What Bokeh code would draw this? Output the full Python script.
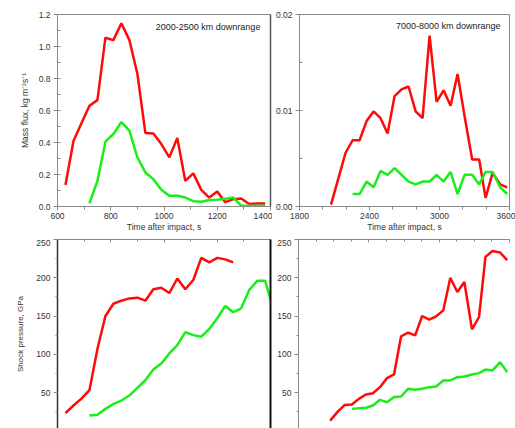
from bokeh.plotting import figure
from bokeh.layouts import row, column
from bokeh.models import (Range1d, LinearAxis, SingleIntervalTicker, FixedTicker,
                          Label, PrintfTickFormatter)
from bokeh.embed import file_html
from bokeh.resources import INLINE

# ---------------- data ----------------
# Mass flux, 2000-2500 km downrange
t_flux_near_red = [630, 660, 690, 720, 750, 780, 810, 840, 870, 900, 930, 960, 990,
                   1020, 1050, 1080, 1110, 1140, 1170, 1200, 1230, 1260, 1290, 1320, 1350, 1380]
flux_near_red = [0.134, 0.41, 0.52, 0.63, 0.665, 1.055, 1.04, 1.145, 1.04, 0.83, 0.46, 0.457, 0.39,
                 0.307, 0.428, 0.16, 0.207, 0.104, 0.056, 0.094, 0.027, 0.046, 0.05, 0.015, 0.019, 0.019]
t_flux_near_green = [720, 750, 780, 810, 840, 870, 900, 930, 960, 990, 1020, 1050, 1080,
                     1110, 1140, 1170, 1200, 1230, 1260, 1290, 1320, 1350, 1380]
flux_near_green = [0.02, 0.16, 0.405, 0.453, 0.528, 0.474, 0.307, 0.213, 0.171, 0.104, 0.067, 0.067, 0.056,
                   0.033, 0.03, 0.04, 0.042, 0.048, 0.056, 0.005, 0.004, 0.004, 0.004]

# Mass flux, 7000-8000 km downrange
t_far_red = [2070, 2135, 2195, 2255, 2315, 2375, 2435, 2495, 2555, 2615, 2675, 2735, 2795,
             2855, 2915, 2975, 3035, 3095, 3155, 3215, 3280, 3340, 3395, 3455, 3520, 3580]
flux_far_red = [0.0002, 0.003, 0.0056, 0.0069, 0.0069, 0.0089, 0.0099, 0.0092, 0.0076, 0.0115, 0.0122,
                0.0125, 0.0099, 0.0092, 0.0178, 0.0109, 0.0121, 0.0105, 0.0138, 0.0094, 0.0049, 0.0049,
                0.0009, 0.0035, 0.0023, 0.002]
t_far_green = [2255, 2315, 2375, 2435, 2495, 2555, 2615, 2675, 2735, 2795, 2855, 2915, 2975,
               3035, 3095, 3155, 3215, 3280, 3340, 3395, 3455, 3520, 3580]
flux_far_green = [0.0013, 0.0013, 0.0026, 0.002, 0.0037, 0.0033, 0.004, 0.0033, 0.0026, 0.0023, 0.0026,
                  0.0026, 0.0033, 0.0026, 0.0036, 0.0013, 0.0033, 0.0033, 0.0023, 0.0036, 0.0036,
                  0.002, 0.0013]

# Shock pressure, 2000-2500 km downrange
t_p_near_red = [630, 660, 690, 720, 750, 780, 810, 840, 870, 900, 930, 960, 990,
                1020, 1050, 1080, 1110, 1140, 1170, 1200, 1230, 1260]
p_near_red = [23, 33, 42, 53, 107, 150, 166, 170, 173, 174, 170, 185, 187,
              180, 199, 185, 197, 226, 220, 226, 224, 220]
t_p_near_green = [720, 750, 780, 810, 840, 870, 900, 930, 960, 990, 1020, 1050, 1080,
                  1110, 1140, 1170, 1200, 1230, 1260, 1290, 1320, 1350, 1380, 1410]
p_near_green = [20, 21, 28.6, 35, 39.5, 46, 56, 66, 80, 88, 101, 112, 129,
                125, 123, 133, 147, 163, 155, 160, 184, 196, 196, 160]

# Shock pressure, 7000-8000 km downrange
p_far_red = [13.3, 25, 33.8, 34.3, 41.7, 47.4, 49, 57, 68.8, 73.6, 123.4, 128.2, 124.7,
             150, 145.2, 149.6, 157.4, 199.8, 181.4, 194.5, 132.5, 148.7, 227.3, 235, 233, 223]
p_far_green = [28.6, 29.5, 30, 33, 40.4, 37.3, 44, 44.8, 54.8, 53.5, 54.8, 57, 57.9,
               65.7, 65.7, 70, 71, 73.6, 75.3, 80, 78.8, 89.7, 76.6]

x_title = "Time after impact, s"
y_title_flux = "Mass flux, kg m\u207b\u00b2s\u207b\u00b9"
y_title_p = "Shock pressure, GPa"
label_near = "2000-2500 km downrange"
label_far = "7000-8000 km downrange"

RED = "#ff0a0a"
GREEN = "#18ee18"
FONT = "Liberation Sans"
TXT = "#333333"
AX = "#8a8a8a"
FS = "8.5px"
LW = 2.5


def make_fig(w, h, xr, yr, bl, br, bt, bb, xloc):
    p = figure(width=w, height=h, x_range=Range1d(*xr), y_range=Range1d(*yr),
               output_backend="svg", toolbar_location=None,
               min_border_left=bl, min_border_right=br, min_border_top=bt, min_border_bottom=bb,
               x_axis_location=xloc)
    p.grid.visible = False
    p.outline_line_color = None
    p.background_fill_color = "white"
    p.border_fill_color = "white"
    return p


def style_axis(ax, color=AX, width=1):
    ax.axis_line_color = color
    ax.axis_line_width = width
    ax.major_tick_line_color = color
    ax.minor_tick_line_color = color
    ax.major_label_text_font = FONT
    ax.major_label_text_font_size = FS
    ax.major_label_text_color = TXT
    ax.axis_label_text_font = FONT
    ax.axis_label_text_font_size = FS
    ax.axis_label_text_font_style = "normal"
    ax.axis_label_text_color = TXT


def border_axis(p, side, color, width):
    a = LinearAxis(ticker=FixedTicker(ticks=[]), axis_line_color=color, axis_line_width=width,
                   major_tick_in=0, major_tick_out=0, minor_tick_in=0, minor_tick_out=0,
                   major_label_standoff=0)
    p.add_layout(a, side)
    return a


def hide_labels(ax):
    ax.major_label_text_font_size = "0px"
    ax.major_label_text_color = None
    ax.major_label_text_alpha = 0
    ax.major_label_standoff = 0


# ---------- top-left ----------
p1 = make_fig(272, 239, (600, 1400), (0, 1.2001), 57, 2, 14, 33, "below")
p1.line(t_flux_near_red, flux_near_red, color=RED, line_width=LW)
p1.line(t_flux_near_green, flux_near_green, color=GREEN, line_width=LW)
p1.xaxis.ticker = SingleIntervalTicker(interval=200, num_minor_ticks=2)
p1.yaxis.ticker = SingleIntervalTicker(interval=0.2, num_minor_ticks=2)
p1.yaxis.formatter = PrintfTickFormatter(format="%.1f")
for ax in p1.xaxis + p1.yaxis:
    style_axis(ax)
p1.xaxis.axis_label = x_title
p1.yaxis.axis_label = y_title_flux
p1.xaxis.major_tick_out = 4
p1.xaxis.major_tick_in = 0
p1.xaxis.minor_tick_out = 3
p1.xaxis.minor_tick_in = 0
p1.xaxis.major_label_standoff = 2
p1.xaxis.axis_label_standoff = 0
p1.yaxis.major_tick_out = 4
p1.yaxis.major_tick_in = 0
p1.yaxis.minor_tick_in = 3
p1.yaxis.minor_tick_out = 0
p1.yaxis.major_label_standoff = 3
p1.yaxis.axis_label_standoff = 6
border_axis(p1, "above", AX, 1)
border_axis(p1, "right", "#555555", 1.5)
p1.add_layout(Label(x=1362, y=1.119, text=label_near, text_align="right", text_baseline="middle",
                    text_font=FONT, text_font_size="9px", text_color="#222222"))

# ---------- top-right ----------
p2 = make_fig(243, 239, (1800, 3600), (0, 0.02), 26, 6, 14, 33, "below")
p2.line(t_far_red, flux_far_red, color=RED, line_width=LW)
p2.line(t_far_green, flux_far_green, color=GREEN, line_width=LW)
p2.xaxis.ticker = SingleIntervalTicker(interval=600, num_minor_ticks=3)
p2.yaxis.ticker = SingleIntervalTicker(interval=0.01, num_minor_ticks=2)
p2.yaxis.formatter = PrintfTickFormatter(format="%.2f")
for ax in p2.xaxis + p2.yaxis:
    style_axis(ax)
p2.xaxis.axis_label = x_title
p2.xaxis.major_tick_out = 4
p2.xaxis.major_tick_in = 0
p2.xaxis.minor_tick_out = 3
p2.xaxis.minor_tick_in = 0
p2.xaxis.major_label_standoff = 2
p2.xaxis.axis_label_standoff = 0
p2.yaxis.major_tick_out = 4
p2.yaxis.major_tick_in = 0
p2.yaxis.minor_tick_in = 3
p2.yaxis.minor_tick_out = 0
p2.yaxis.major_label_standoff = 3
border_axis(p2, "above", AX, 1)
border_axis(p2, "right", AX, 1)
p2.add_layout(Label(x=3523, y=0.0188, text=label_far, text_align="right", text_baseline="middle",
                    text_font=FONT, text_font_size="9px", text_color="#222222"))

# ---------- bottom-left ----------
yb = (250 - 189 / 0.765, 250)
p3 = make_fig(272, 189, (600, 1400), yb, 57, 2, 0, 0, "above")
p3.line(t_p_near_red, p_near_red, color=RED, line_width=LW)
p3.line(t_p_near_green, p_near_green, color=GREEN, line_width=LW)
p3.xaxis.ticker = SingleIntervalTicker(interval=200, num_minor_ticks=2)
p3.yaxis.ticker = SingleIntervalTicker(interval=50, num_minor_ticks=2)
for ax in p3.xaxis + p3.yaxis:
    style_axis(ax)
p3.yaxis.axis_line_color = "#333333"
p3.yaxis.axis_line_width = 1.5
hide_labels(p3.xaxis[0])
p3.xaxis.major_tick_in = 3
p3.xaxis.major_tick_out = 0
p3.xaxis.minor_tick_in = 2
p3.xaxis.minor_tick_out = 0
p3.yaxis.axis_label = y_title_p
p3.yaxis.axis_label_text_font_size = "8px"
p3.yaxis.major_tick_out = 4
p3.yaxis.major_tick_in = 0
p3.yaxis.minor_tick_out = 2
p3.yaxis.minor_tick_in = 0
p3.yaxis.major_label_standoff = 3
p3.yaxis.axis_label_standoff = 8
border_axis(p3, "right", "#111111", 2)

# ---------- bottom-right ----------
p4 = make_fig(243, 189, (1800, 3600), yb, 26, 6, 0, 0, "above")
p4.line(t_far_red, p_far_red, color=RED, line_width=LW)
p4.line(t_far_green, p_far_green, color=GREEN, line_width=LW)
p4.xaxis.ticker = SingleIntervalTicker(interval=600, num_minor_ticks=4)
p4.yaxis.ticker = SingleIntervalTicker(interval=50, num_minor_ticks=2)
for ax in p4.xaxis + p4.yaxis:
    style_axis(ax)
hide_labels(p4.xaxis[0])
p4.xaxis.major_tick_in = 3
p4.xaxis.major_tick_out = 0
p4.xaxis.minor_tick_in = 2
p4.xaxis.minor_tick_out = 0
p4.yaxis.major_tick_out = 4
p4.yaxis.major_tick_in = 0
p4.yaxis.minor_tick_out = 2
p4.yaxis.minor_tick_in = 0
p4.yaxis.major_label_standoff = 3

layout = column(row(p1, p2), row(p3, p4))
open("out.html", "w").write(file_html(layout, INLINE))
